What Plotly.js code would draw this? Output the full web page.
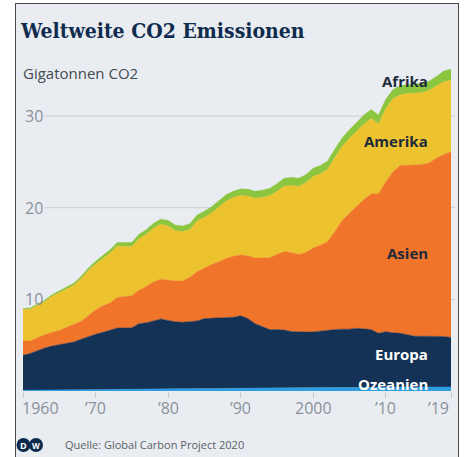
<!DOCTYPE html>
<html>
<head>
<meta charset="utf-8">
<script src="https://cdn.plot.ly/plotly-3.0.1.min.js"></script>
<style>
  html, body { margin: 0; padding: 0; background: #ffffff; width: 464px; height: 457px; overflow: hidden; }
  #card { position: absolute; left: 15px; top: 3px; width: 442px; height: 470px;
          background: #e9edf1; border-left: 1.5px solid #4a4a4a; border-top: 1.5px solid #4a4a4a; border-right: 1.5px solid #4a4a4a; }
  #chart { position: absolute; left: 0; top: 0; width: 464px; height: 457px; }
</style>
</head>
<body>
<div id="card"></div>
<div id="chart"></div>
<script>
const years = [1960,1961,1962,1963,1964,1965,1966,1967,1968,1969,
  1970,1971,1972,1973,1974,1975,1976,1977,1978,1979,
  1980,1981,1982,1983,1984,1985,1986,1987,1988,1989,
  1990,1991,1992,1993,1994,1995,1996,1997,1998,1999,
  2000,2001,2002,2003,2004,2005,2006,2007,2008,2009,
  2010,2011,2012,2013,2014,2015,2016,2017,2018,2019];

const ozeanien = [0.09,0.09,0.10,0.10,0.11,0.12,0.12,0.13,0.14,0.15,
  0.16,0.17,0.17,0.18,0.19,0.19,0.20,0.21,0.22,0.22,
  0.23,0.24,0.24,0.23,0.25,0.25,0.25,0.26,0.27,0.28,
  0.30,0.30,0.30,0.31,0.31,0.32,0.33,0.34,0.35,0.36,
  0.37,0.38,0.38,0.39,0.40,0.41,0.42,0.42,0.43,0.44,
  0.44,0.44,0.44,0.43,0.43,0.44,0.44,0.44,0.44,0.44];

const europa = [3.81,4.01,4.30,4.60,4.79,4.94,5.08,5.22,5.51,5.80,
  6.04,6.23,6.43,6.69,6.69,6.71,7.15,7.24,7.43,7.63,
  7.47,7.31,7.26,7.32,7.40,7.65,7.70,7.71,7.73,7.77,
  7.90,7.60,7.05,6.69,6.39,6.38,6.32,6.16,6.10,6.07,
  6.08,6.17,6.22,6.31,6.35,6.34,6.43,6.38,6.27,5.86,
  6.03,5.91,5.86,5.72,5.54,5.53,5.53,5.53,5.51,5.41];

const asien = [1.56,1.36,1.40,1.45,1.50,1.54,1.75,1.90,1.95,2.25,
  2.65,2.90,3.00,3.33,3.42,3.50,3.65,3.95,4.25,4.35,
  4.40,4.45,4.50,4.85,5.35,5.50,5.85,6.13,6.45,6.65,
  6.65,6.85,7.15,7.50,7.85,8.20,8.55,8.60,8.45,8.67,
  9.15,9.35,9.70,10.70,11.85,12.65,13.35,14.10,14.80,15.20,
  16.33,17.55,18.30,18.45,18.68,18.73,18.93,19.43,19.85,20.25];

const amerika = [3.42,3.46,3.56,3.60,3.93,4.11,4.14,4.27,4.65,4.92,
  5.00,5.12,5.44,5.61,5.48,5.35,5.62,5.69,5.86,5.98,
  5.90,5.48,5.37,5.21,5.55,5.54,5.63,5.92,6.26,6.40,
  6.48,6.51,6.54,6.62,6.75,6.87,7.15,7.33,7.42,7.61,
  7.80,7.80,7.89,8.08,8.07,8.16,8.15,8.24,8.23,7.65,
  8.00,8.00,7.70,7.85,7.85,7.85,7.90,7.85,7.95,7.80];

const afrika = [0.12,0.13,0.14,0.15,0.17,0.19,0.21,0.23,0.25,0.28,
  0.30,0.33,0.36,0.39,0.42,0.45,0.48,0.51,0.54,0.57,
  0.60,0.62,0.63,0.64,0.65,0.66,0.67,0.68,0.69,0.70,
  0.72,0.74,0.76,0.78,0.80,0.83,0.85,0.87,0.88,0.89,
  0.90,0.90,0.91,0.92,0.93,0.94,0.95,0.96,0.97,0.95,
  1.00,1.00,1.00,1.00,1.00,1.00,1.00,1.05,1.15,1.20];

const seriesNames = ["Ozeanien","Europa","Asien","Amerika","Afrika"];
const seriesColors = ["#2f9ede","#143156","#f0742a","#ecc32f","#8cc540"];
const seriesData = [ozeanien, europa, asien, amerika, afrika];

const xTickVals = [1960,1970,1980,1990,2000,2010,2019];
const xTickText = ["1960","\u201970","\u201980","\u201990","2000","\u201910","\u201919"];
const yTickVals = [10,20,30];
const yTickText = ["10","20","30"];

// plot geometry (pixels)
const W = 464, H = 457, L = 23, R = 13, T = 61, B = 66;
const PW = W - L - R, PH = H - T - B;
const px2x = p => (p - L) / PW;
const py2y = p => (H - B - p) / PH;

const traces = seriesData.map((vals, i) => ({
  type: "scatter", mode: "lines", x: years, y: vals, name: seriesNames[i],
  stackgroup: "one", fillcolor: seriesColors[i],
  line: { color: seriesColors[i], width: 0.5, shape: "linear" },
  hoverinfo: "skip"
}));

const fontSans = "'Open Sans', 'Noto Sans', sans-serif";
const annotations = [];

yTickVals.forEach((v, i) => annotations.push({
  xref: "paper", yref: "y", x: 0, y: v, xanchor: "left", yanchor: "middle",
  text: yTickText[i], showarrow: false, font: { family: fontSans, size: 16, color: "#8a919b" }
}));
xTickVals.forEach((v, i) => annotations.push({
  xref: "x", yref: "paper", x: v, y: py2y(408), yanchor: "middle",
  xanchor: i === 0 ? "left" : (i === xTickVals.length - 1 ? "right" : "center"),
  xshift: i === 0 ? -3 : 0,
  text: xTickText[i], showarrow: false, font: { family: fontSans, size: 16, color: "#8a919b" }
}));

const labels = [
  { t: "Afrika", y: 81, c: "#1e2b3a" },
  { t: "Amerika", y: 141, c: "#1e2b3a" },
  { t: "Asien", y: 253, c: "#1e2b3a" },
  { t: "Europa", y: 354, c: "#ffffff" },
  { t: "Ozeanien", y: 384, c: "#ffffff" }
];
labels.forEach(l => annotations.push({
  xref: "paper", yref: "paper", x: px2x(430), y: py2y(l.y), xanchor: "right", yanchor: "middle",
  text: "<b>" + l.t + "</b>", showarrow: false, font: { family: fontSans, size: 15, color: l.c }
}));

annotations.push({
  xref: "paper", yref: "paper", x: px2x(21), y: py2y(73), xanchor: "left", yanchor: "middle",
  text: "Gigatonnen CO2", showarrow: false, font: { family: fontSans, size: 15, color: "#444a52" }
});
annotations.push({
  xref: "paper", yref: "paper", x: px2x(63), y: py2y(444), xanchor: "left", yanchor: "middle",
  text: "Quelle: Global Carbon Project 2020", showarrow: false, font: { family: fontSans, size: 11, color: "#5a6068" }
});
annotations.push({
  xref: "paper", yref: "paper", x: px2x(23.5), y: py2y(445), xanchor: "center", yanchor: "middle",
  text: "<b>D</b>", showarrow: false, font: { family: fontSans, size: 9, color: "#ffffff" }
});
annotations.push({
  xref: "paper", yref: "paper", x: px2x(36), y: py2y(445), xanchor: "center", yanchor: "middle",
  text: "<b>W</b>", showarrow: false, font: { family: fontSans, size: 8, color: "#ffffff" }
});

const shapes = [];
yTickVals.forEach(v => shapes.push({
  type: "line", xref: "paper", yref: "y", x0: px2x(45), x1: px2x(455), y0: v, y1: v,
  line: { color: "#c9ced6", width: 1 }, layer: "below"
}));
[[23.5, 445, 7], [36, 445, 7]].forEach(c => shapes.push({
  type: "circle", xref: "paper", yref: "paper",
  x0: px2x(c[0] - c[2]), x1: px2x(c[0] + c[2]), y0: py2y(c[1] + c[2]), y1: py2y(c[1] - c[2]),
  fillcolor: "#0d2b4c", line: { color: "#0d2b4c", width: 0 }, layer: "above"
}));

const layout = {
  width: W, height: H,
  margin: { l: L, r: R, t: T, b: B, pad: 0 },
  paper_bgcolor: "rgba(0,0,0,0)", plot_bgcolor: "rgba(0,0,0,0)",
  showlegend: false,
  title: {
    text: "Weltweite CO2 Emissionen",
    xref: "container", yref: "container", x: 21 / W, y: 1 - 31 / H,
    xanchor: "left", yanchor: "middle",
    font: { family: "'DejaVu Serif Condensed', 'DejaVu Serif', serif", size: 21, color: "#0f2c4f", weight: "bold" }
  },
  xaxis: {
    range: [1960, 2019], showgrid: false, zeroline: false, showline: false,
    tickvals: xTickVals, ticktext: xTickText, showticklabels: false,
    ticks: "outside", ticklen: 6, tickcolor: "#c5cad1", tickwidth: 1, fixedrange: true
  },
  yaxis: {
    range: [0, 36], showgrid: false, zeroline: false, showline: false,
    showticklabels: false, ticks: "", fixedrange: true
  },
  annotations: annotations,
  shapes: shapes
};

Plotly.newPlot("chart", traces, layout, { displayModeBar: false, staticPlot: true });
</script>
</body>
</html>
